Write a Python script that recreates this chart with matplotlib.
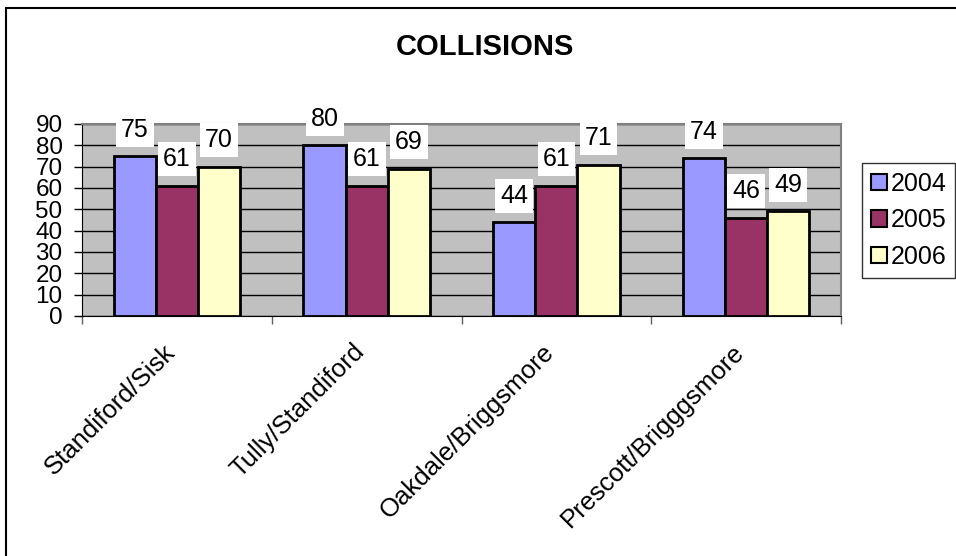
import matplotlib
matplotlib.use("Agg")
import matplotlib.pyplot as plt
import matplotlib.patches as mpatches
import matplotlib.transforms as mtransforms
import numpy as np

categories = ["Standiford/Sisk", "Tully/Standiford", "Oakdale/Briggsmore", "Prescott/Brigggsmore"]
series_names = ["2004", "2005", "2006"]
values_2004 = [75, 80, 44, 74]
values_2005 = [61, 61, 61, 46]
values_2006 = [70, 69, 71, 49]
y_ticks = [0, 10, 20, 30, 40, 50, 60, 70, 80, 90]
title = "COLLISIONS"

colors = ["#9999FF", "#993366", "#FFFFCC"]
series = [values_2004, values_2005, values_2006]

plt.rcParams['font.family'] = ['Liberation Sans', 'DejaVu Sans']

W, H = 956, 556
fig = plt.figure(figsize=(W / 100, H / 100), dpi=100)
fig.patch.set_facecolor("white")

left, right, top, bottom = 82, 841, 124, 316
ax = fig.add_axes([left / W, 1 - bottom / H, (right - left) / W, (bottom - top) / H])
ax.set_facecolor("#C0C0C0")

n = len(categories)
x = np.arange(n)
bw = 0.222
for i, (vals, c, name) in enumerate(zip(series, colors, series_names)):
    pos = x + (i - 1) * bw
    ax.bar(pos, vals, width=bw, color=c, edgecolor="black", linewidth=2, label=name, zorder=3)
    for p, v in zip(pos, vals):
        ax.annotate(str(v), (p, v), xytext=(0, 14), textcoords="offset points",
                    ha="center", va="baseline", fontsize=18, zorder=5,
                    bbox=dict(boxstyle="square,pad=0.2", fc="white", ec="none"))

ax.set_xlim(-0.5, n - 0.5)
ax.set_ylim(0, 90)
ax.set_yticks(y_ticks)
ax.set_yticklabels([str(t) for t in y_ticks], fontsize=17.5)
ax.yaxis.grid(True, color="black", linewidth=1, zorder=1)
ax.set_axisbelow(True)
ax.tick_params(axis="y", length=6, width=1, pad=8, direction="out")
ax.set_xticks(np.arange(n + 1) - 0.5, minor=False)
ax.set_xticklabels([])
ax.tick_params(axis="x", which="major", length=6, width=1, color="#606060")
ax.set_xticks(x, minor=True)
ax.set_xticklabels(categories, minor=True, rotation=45, ha="right", va="top",
                   rotation_mode="anchor", fontsize=18.5)
ax.tick_params(axis="x", which="minor", length=0, pad=17)
offset = mtransforms.ScaledTranslation(-14 / 100, 0, fig.dpi_scale_trans)
for lab in ax.xaxis.get_minorticklabels():
    lab.set_transform(lab.get_transform() + offset)

for s in ["top", "right"]:
    ax.spines[s].set_color("#808080")
    ax.spines[s].set_linewidth(1.5)
ax.spines["left"].set_color("black")
ax.spines["bottom"].set_color("black")

fig.text(485 / W, 1 - 47 / H, title, ha="center", va="center", fontsize=21, fontweight="bold")

leg = fig.legend(loc="upper left", bbox_to_anchor=(862 / W, 1 - 163 / H), fontsize=18,
                 frameon=True, fancybox=False, edgecolor="black", handlelength=0.65,
                 handleheight=0.65, handletextpad=0.15, labelspacing=0.5, borderpad=0.35,
                 borderaxespad=0)
leg.get_frame().set_linewidth(1)
for h in leg.legend_handles:
    h.set_linewidth(1.5)

fig.patches.append(mpatches.Rectangle((5.5 / W, -0.1), 1.2, (H - 8) / H + 0.1,
                                      transform=fig.transFigure, fill=False,
                                      edgecolor="black", linewidth=1.5, zorder=0))

fig.savefig("out.png", dpi=100, facecolor="white")
